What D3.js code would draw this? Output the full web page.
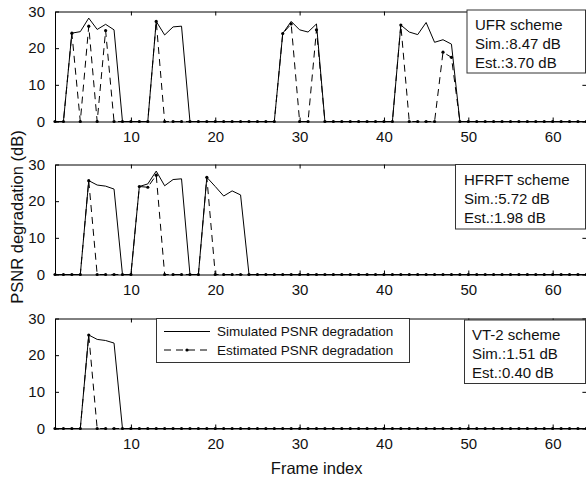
<!DOCTYPE html>
<html><head><meta charset="utf-8">
<script src="https://cdn.jsdelivr.net/npm/d3@7"></script>
<style>html,body{margin:0;padding:0;background:#fff;}svg{display:block;font-family:Arial,"Liberation Sans",sans-serif;}</style>
</head><body>
<svg id="c" width="586" height="479"></svg>
<script>
// ---- data ----
const frames = d3.range(1, 65);
const xTicks = [10, 20, 30, 40, 50, 60];
const yTicks = [0, 10, 20, 30];
const schemes = ["UFR scheme", "HFRFT scheme", "VT-2 scheme"];
const simLabels = ["Sim.:8.47 dB", "Sim.:5.72 dB", "Sim.:1.51 dB"];
const estLabels = ["Est.:3.70 dB", "Est.:1.98 dB", "Est.:0.40 dB"];
const legendLabels = ["Simulated PSNR degradation", "Estimated PSNR degradation"];

const simUFR = [0,0,24.1,24.5,28.2,25.1,26.5,25.0,0,0, 0,0,27.3,23.6,25.8,26.0,0,0,0,0, 0,0,0,0,0,0,0,24.0,27.3,25.0, 24.4,26.6,0,0,0,0,0,0,0,0, 0,26.3,24.4,23.7,27.0,21.6,22.3,21.1,0,0, 0,0,0,0,0,0,0,0,0,0, 0,0,0,0];
const estUFR = [0,0,24.1,0,26.0,0,24.8,0,0,0, 0,0,27.3,0,0,0,0,0,0,0, 0,0,0,0,0,0,0,24.0,26.6,0, 0,25.0,0,0,0,0,0,0,0,0, 0,26.3,0,0,0,0,18.9,17.5,0,0, 0,0,0,0,0,0,0,0,0,0, 0,0,0,0];
const simHFRFT = [0,0,0,0,25.6,24.4,24.1,23.3,0,0, 24.0,24.7,28.2,24.2,25.9,26.1,0,0,26.5,24.0, 21.4,22.8,21.7,0,0,0,0,0,0,0, 0,0,0,0,0,0,0,0,0,0, 0,0,0,0,0,0,0,0,0,0, 0,0,0,0,0,0,0,0,0,0, 0,0,0,0];
const estHFRFT = [0,0,0,0,25.6,0,0,0,0,0, 24.0,23.8,27.1,0,0,0,0,0,26.5,0, 0,0,0,0,0,0,0,0,0,0, 0,0,0,0,0,0,0,0,0,0, 0,0,0,0,0,0,0,0,0,0, 0,0,0,0,0,0,0,0,0,0, 0,0,0,0];
const simVT2 = [0,0,0,0,25.5,24.3,24.0,23.3,0,0, 0,0,0,0,0,0,0,0,0,0, 0,0,0,0,0,0,0,0,0,0, 0,0,0,0,0,0,0,0,0,0, 0,0,0,0,0,0,0,0,0,0, 0,0,0,0,0,0,0,0,0,0, 0,0,0,0];
const estVT2 = [0,0,0,0,25.5,0,0,0,0,0, 0,0,0,0,0,0,0,0,0,0, 0,0,0,0,0,0,0,0,0,0, 0,0,0,0,0,0,0,0,0,0, 0,0,0,0,0,0,0,0,0,0, 0,0,0,0,0,0,0,0,0,0, 0,0,0,0];

const sims = [simUFR, simHFRFT, simVT2];
const ests = [estUFR, estHFRFT, estVT2];

// ---- layout ----
const svg = d3.select("#c");
const X0 = 55, X1 = 586.4;
const tops = [11.5, 164.5, 318.5];
const H = 110;
const boxes = [
  {x: 467, y: 10, w: 118.5, h: 63, tx: 475},
  {x: 455.5, y: 164.5, w: 130, h: 64.5, tx: 464},
  {x: 464.5, y: 320, w: 121, h: 63.5, tx: 472}
];

const x = d3.scaleLinear().domain([1, 64]).range([X0, X1]);

tops.forEach((top, i) => {
  const y = d3.scaleLinear().domain([0, 30]).range([top + H, top]);
  const g = svg.append("g");

  // axes with inward ticks
  const bottom = g.append("g").attr("transform", `translate(0,${top + H})`)
    .call(d3.axisBottom(x).tickValues(xTicks).tickSizeInner(-4).tickSizeOuter(0).tickPadding(10).tickFormat(d3.format("d")));
  const topAx = g.append("g").attr("transform", `translate(0,${top})`)
    .call(d3.axisTop(x).tickValues(xTicks).tickSizeInner(-4).tickSizeOuter(0).tickFormat(""));
  const left = g.append("g").attr("transform", `translate(${X0},0)`)
    .call(d3.axisLeft(y).tickValues(yTicks).tickSizeInner(-4).tickSizeOuter(0).tickPadding(10).tickFormat(d3.format("d")));
  const right = g.append("g").attr("transform", `translate(${X1},0)`)
    .call(d3.axisRight(y).tickValues(yTicks).tickSizeInner(-4).tickSizeOuter(0).tickFormat(""));
  [bottom, topAx, left, right].forEach(a => {
    a.select(".domain").attr("stroke", "#000").attr("stroke-width", 1);
    a.selectAll(".tick line").attr("stroke", "#000");
    a.selectAll("text").attr("font-size", 15).attr("fill", "#111")
      .attr("font-family", "Arial, 'Liberation Sans', sans-serif");
  });

  const line = d3.line().x((d, k) => x(frames[k])).y(d => y(d));
  g.append("path").datum(sims[i]).attr("d", line)
    .attr("fill", "none").attr("stroke", "#000").attr("stroke-width", 1);
  g.append("path").datum(ests[i]).attr("d", line)
    .attr("fill", "none").attr("stroke", "#000").attr("stroke-width", 1)
    .attr("stroke-dasharray", "7,5");
  g.selectAll("circle.m").data(ests[i]).enter().append("circle")
    .attr("cx", (d, k) => x(frames[k])).attr("cy", d => y(d)).attr("r", 1.6).attr("fill", "#000");

  // info box
  const b = boxes[i];
  g.append("rect").attr("x", b.x).attr("y", b.y).attr("width", b.w).attr("height", b.h)
    .attr("fill", "#fff").attr("stroke", "#333").attr("stroke-width", 1);
  [schemes[i], simLabels[i], estLabels[i]].forEach((t, j) => {
    g.append("text").attr("x", b.tx).attr("y", b.y + 20 + j * 19.2)
      .attr("font-size", 15).attr("fill", "#111").text(t);
  });
});

// legend in third panel
const lg = svg.append("g");
lg.append("rect").attr("x", 156.5).attr("y", 318.5).attr("width", 253).attr("height", 44)
  .attr("fill", "#fff").attr("stroke", "#333").attr("stroke-width", 1);
[0, 1].forEach(j => {
  const yy = 331.5 + j * 18.5;
  lg.append("line").attr("x1", 164).attr("x2", 210).attr("y1", yy).attr("y2", yy)
    .attr("stroke", "#000").attr("stroke-width", 1)
    .attr("stroke-dasharray", j === 1 ? "7,5" : null);
  if (j === 1) lg.append("circle").attr("cx", 187).attr("cy", yy).attr("r", 1.6).attr("fill", "#000");
  lg.append("text").attr("x", 217).attr("y", yy + 4.8).attr("font-size", 13.5).attr("fill", "#111").text(legendLabels[j]);
});

// axis titles
svg.append("text").attr("x", (X0 + X1) / 2 - 4).attr("y", 474).attr("text-anchor", "middle")
  .attr("font-size", 16.5).attr("fill", "#111").text("Frame index");
svg.append("text").attr("transform", "translate(23,217) rotate(-90)").attr("text-anchor", "middle")
  .attr("font-size", 16.5).attr("fill", "#111").text("PSNR degradation (dB)");
</script>
</body></html>
